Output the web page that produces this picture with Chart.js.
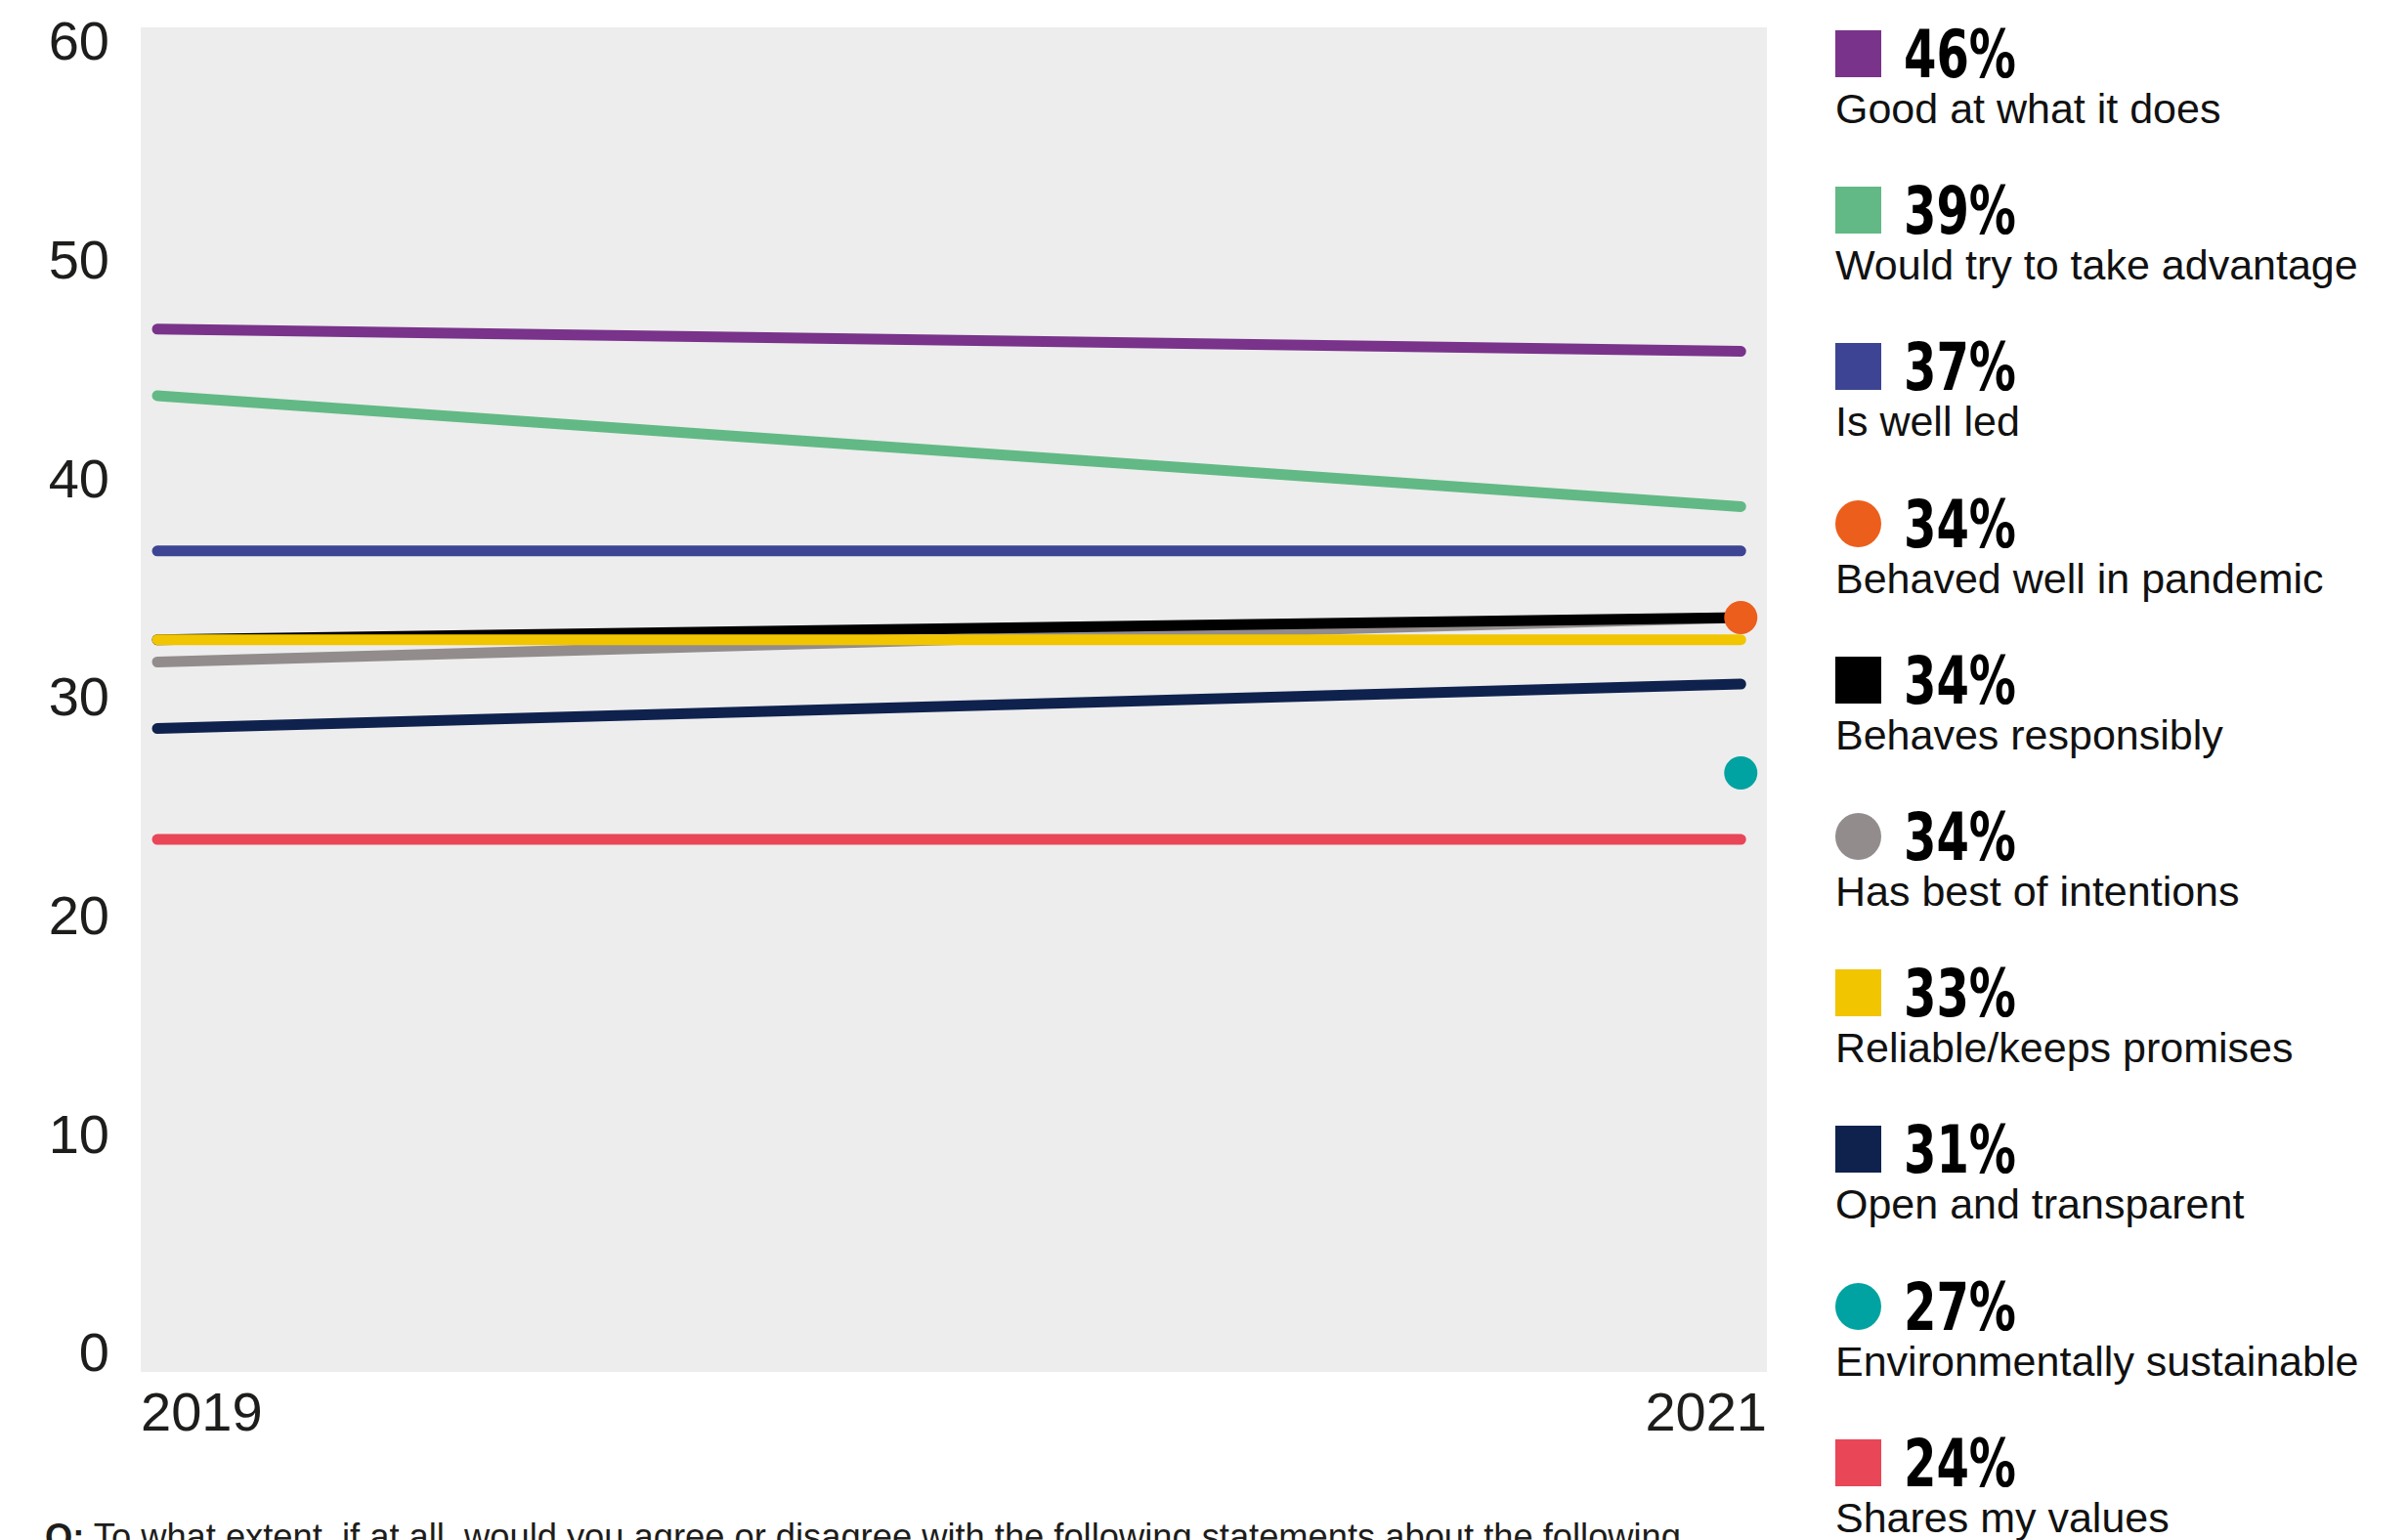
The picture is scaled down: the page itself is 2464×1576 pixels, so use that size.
<!DOCTYPE html>
<html>
<head>
<meta charset="utf-8">
<script src="https://cdn.jsdelivr.net/npm/chart.js@4"></script>
<style>
  html, body { margin: 0; padding: 0; background: #fff; }
  body { width: 2464px; height: 1576px; overflow: hidden; position: relative; font-family: 'Liberation Sans', Arial, sans-serif; }
  #wrap { position: absolute; left: 0; top: 0; width: 1830px; height: 1500px; }
  #legend { position: absolute; left: 1878px; top: 0; }
  .item { position: absolute; left: 0; width: 580px; height: 150px; }
  .mark { position: absolute; left: 0; top: 0; width: 47px; height: 48px; }
  .pct { position: absolute; left: 70px; top: -8px; line-height: 67px; font-size: 67px; font-weight: bold;
         font-family: 'Liberation Sans Narrow', 'DejaVu Sans Condensed', 'Liberation Sans', sans-serif;
         color: #000; transform-origin: left center; white-space: nowrap; }
  .lbl { position: absolute; left: 0; top: 59px; line-height: 43px; font-size: 43px; color: #111; white-space: nowrap; }
  #question { position: absolute; left: 46px; top: 1555px; font-size: 36.3px; line-height: 36.3px; color: #1d1d1b; white-space: nowrap; }
</style>
</head>
<body>
<div id="wrap"><canvas id="grafico"></canvas></div>
<div id="legend"></div>
<div id="question"><b>Q:</b> To what extent, if at all, would you agree or disagree with the following statements about the following</div>
<script>
// dados (2019 e 2021); null = só existe o ponto de 2021
const anos = [2019, 2021];
const categorias = [
  'Good at what it does',
  'Would try to take advantage',
  'Is well led',
  'Behaved well in pandemic',
  'Behaves responsibly',
  'Has best of intentions',
  'Reliable/keeps promises',
  'Open and transparent',
  'Environmentally sustainable',
  'Shares my values'
];
const valores2019 = [47, 44, 37, null, 33, 32, 33, 29, null, 24];
const valores2021 = [46, 39, 37, 34, 34, 34, 33, 31, 27, 24];
const marcadores = ['square', 'square', 'square', 'circle', 'square', 'circle', 'square', 'square', 'circle', 'square'];
const yTicks = [0, 10, 20, 30, 40, 50, 60];

const cores = ['#79338a', '#62b985', '#3c4493', '#ec5e1c', '#000000', '#938c8c', '#f1c500', '#0f224e', '#00a3a1', '#e94658'];
// ordem de desenho: menor fica por cima
const camadas = [9, 8, 7, 0, 3, 4, 2, 6, 1, 10];

const datasets = categorias.map((nome, i) => {
  const soPonto = valores2019[i] === null;
  const pontos = soPonto
    ? [{ x: anos[1], y: valores2021[i] }]
    : [{ x: anos[0], y: valores2019[i] }, { x: anos[1], y: valores2021[i] }];
  return {
    label: nome,
    data: pontos,
    yAxisID: 'yDados',
    borderColor: cores[i],
    backgroundColor: cores[i],
    borderWidth: 11,
    borderCapStyle: 'round',
    showLine: !soPonto,
    pointRadius: soPonto ? 17 : 0,
    pointBorderWidth: 0,
    order: camadas[i]
  };
});

const fundoCinza = {
  id: 'fundoCinza',
  beforeDraw(chart) {
    const a = chart.chartArea, c = chart.ctx;
    c.save();
    c.fillStyle = '#ededed';
    c.fillRect(a.left, a.top, a.right - a.left, a.bottom - a.top);
    c.restore();
  }
};

const fonteEixo = { family: "'Liberation Sans', Arial, sans-serif", size: 56 };

new Chart(document.getElementById('grafico'), {
  type: 'line',
  data: { datasets },
  plugins: [fundoCinza],
  options: {
    responsive: true,
    maintainAspectRatio: false,
    animation: false,
    layout: { padding: { left: 0, top: 28, right: 22, bottom: 0 } },
    plugins: { legend: { display: false }, tooltip: { enabled: false } },
    scales: {
      x: {
        type: 'linear',
        min: 2018.979,
        max: 2021.033,
        grid: { display: false, drawTicks: false },
        border: { display: false },
        afterBuildTicks: s => { s.ticks = [{ value: s.min }, { value: s.max }]; },
        afterFit: s => { s.height = 96; s.paddingLeft = 0; s.paddingRight = 0; },
        ticks: {
          align: 'inner',
          padding: 11,
          color: '#1d1d1b',
          font: fonteEixo,
          callback: (v, i) => String(anos[i])
        }
      },
      // eixo com os rótulos 0–60 como impressos na figura
      y: {
        min: -0.715,
        max: 60.8,
        grid: { display: false, drawTicks: false },
        border: { display: false },
        afterBuildTicks: s => { s.ticks = yTicks.map(v => ({ value: v })); },
        afterFit: s => { s.width = 144; s.paddingTop = 0; s.paddingBottom = 0; },
        ticks: { padding: 32, color: '#1d1d1b', font: fonteEixo }
      },
      // eixo dos valores (os rótulos impressos estão levemente deslocados)
      yDados: {
        display: false,
        min: 0,
        max: 60.6
      }
    }
  }
});

// legenda lateral montada a partir dos mesmos arrays
const legenda = document.getElementById('legend');
const medidor = document.createElement('canvas').getContext('2d');
medidor.font = "bold 67px 'Liberation Sans Narrow', 'DejaVu Sans Condensed', 'Liberation Sans', sans-serif";
const escalaPct = 115 / medidor.measureText('46%').width;
categorias.forEach((nome, i) => {
  const item = document.createElement('div');
  item.className = 'item';
  item.style.top = (31 + i * 160.2) + 'px';
  const m = document.createElement('div');
  m.className = 'mark';
  m.style.background = cores[i];
  if (marcadores[i] === 'circle') m.style.borderRadius = '50%';
  const p = document.createElement('div');
  p.className = 'pct';
  p.textContent = valores2021[i] + '%';
  p.style.transform = 'scaleX(' + escalaPct.toFixed(3) + ')';
  const l = document.createElement('div');
  l.className = 'lbl';
  l.textContent = nome;
  item.append(m, p, l);
  legenda.appendChild(item);
});
</script>
</body>
</html>
